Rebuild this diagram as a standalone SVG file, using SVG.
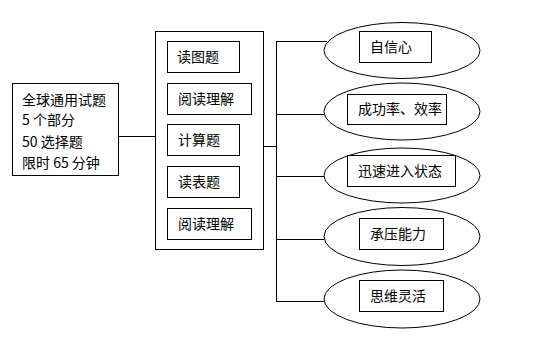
<svg xmlns="http://www.w3.org/2000/svg" width="552" height="343" viewBox="0 0 552 343">
<style>
rect,ellipse{fill:#fff;stroke:#000;stroke-width:1}
line{stroke:#000;stroke-width:1}
text{font-family:"Noto Sans CJK SC","Liberation Sans",sans-serif;font-size:14px;fill:#000}
</style>
<rect x="0" y="0" width="552" height="343" style="stroke:none"/>
<g id="connectors">
<line x1="119" y1="136.5" x2="155" y2="136.5"/>
<line x1="263" y1="146.5" x2="276" y2="146.5"/>
<line x1="276.5" y1="41" x2="276.5" y2="302"/>
<line x1="276" y1="41.5" x2="327" y2="41.5"/>
<line x1="276" y1="114.5" x2="325" y2="114.5"/>
<line x1="276" y1="176.5" x2="325" y2="176.5"/>
<line x1="276" y1="239.5" x2="325" y2="239.5"/>
<line x1="276" y1="301.5" x2="325" y2="301.5"/>
</g>
<g id="summary">
<rect x="12.5" y="83.5" width="106" height="92"/>
<text x="22" y="105">全球通用试题</text>
<text x="22" y="125">5 个部分</text>
<text x="22" y="146.5">50 选择题</text>
<text x="22" y="168">限时 65 分钟</text>
</g>
<g id="sections">
<rect x="155.5" y="31.5" width="108" height="218"/>
<g id="s1"><rect x="167.5" y="41.5" width="72" height="31"/><text x="177" y="61.5">读图题</text></g>
<g id="s2"><rect x="167.5" y="83.5" width="84" height="31"/><text x="178" y="103.5">阅读理解</text></g>
<g id="s3"><rect x="167.5" y="124.5" width="72" height="31"/><text x="178" y="145">计算题</text></g>
<g id="s4"><rect x="167.5" y="166.5" width="72" height="31"/><text x="178" y="186.5">读表题</text></g>
<g id="s5"><rect x="167.5" y="208.5" width="84" height="31"/><text x="178" y="228.5">阅读理解</text></g>
</g>
<g id="e1"><ellipse cx="402" cy="50.5" rx="78" ry="28"/><rect x="359.5" y="31.5" width="72" height="31"/><text x="370" y="52">自信心</text></g>
<g id="e2"><ellipse cx="402" cy="111.5" rx="78" ry="28.5"/><rect x="347.5" y="94.5" width="99" height="30"/><text x="358" y="114">成功率、效率</text></g>
<g id="e3"><ellipse cx="402" cy="175.5" rx="78" ry="27.5"/><rect x="347.5" y="155.5" width="108" height="31"/><text x="358" y="176">迅速进入状态</text></g>
<g id="e4"><ellipse cx="402" cy="236.5" rx="78" ry="29"/><rect x="359.5" y="218.5" width="84" height="31"/><text x="370" y="238.5">承压能力</text></g>
<g id="e5"><ellipse cx="402" cy="299" rx="78" ry="29"/><rect x="359.5" y="280.5" width="84" height="31"/><text x="370" y="301">思维灵活</text></g>
</svg>
